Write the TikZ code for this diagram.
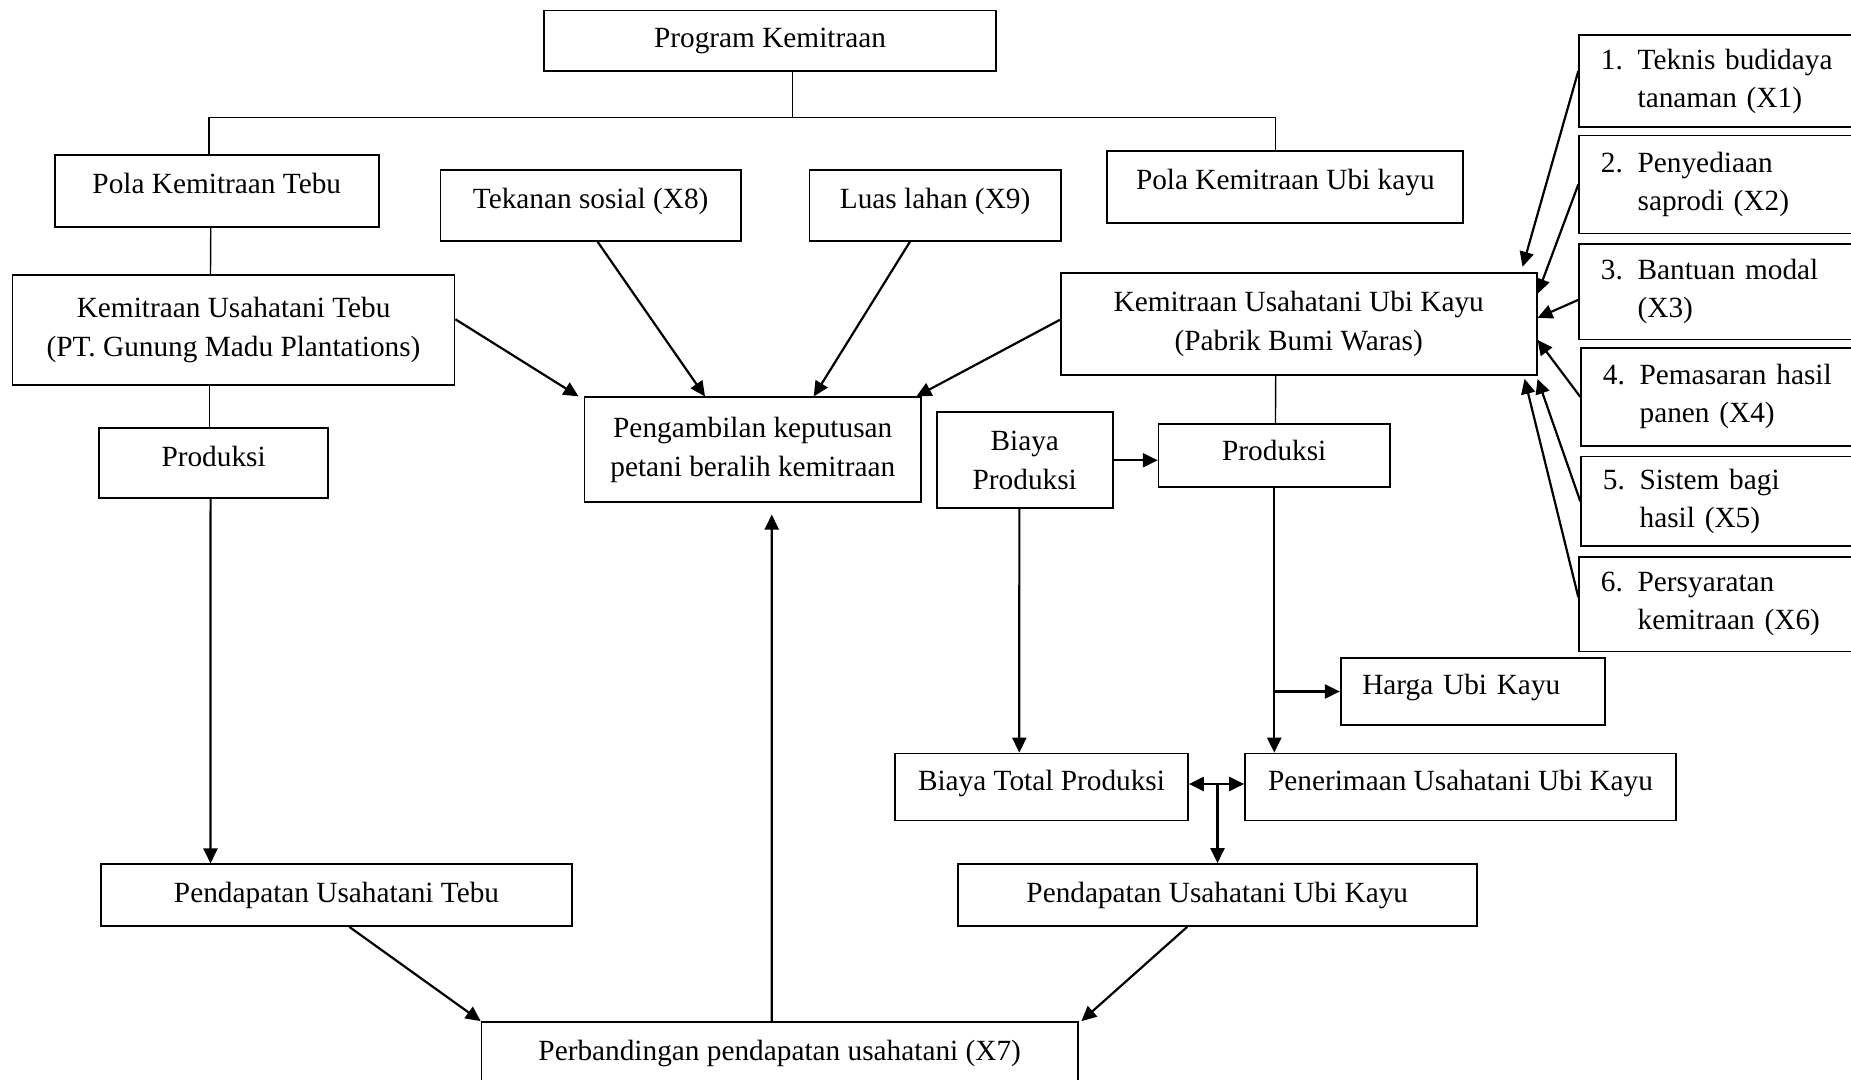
\documentclass[tikz,border=0pt]{standalone}
\usepackage{fontspec}
\setmainfont{Liberation Serif}
\usetikzlibrary{arrows.meta, calc}

\newcommand{\numitem}[3]{\makebox[18.4pt][l]{#1}#2\\\hspace*{18.4pt}#3}

\begin{document}
\begin{tikzpicture}[
    x=0.5pt, y=-0.5pt,
    font=\fontsize{14.65}{19.5}\selectfont,
    every node/.style={align=center},
    box/.style ={rectangle, draw, line width=0.85pt, inner sep=0pt},
    one/.style ={box, text height=0.7em, text depth=0.4em},
    lst/.style ={box, anchor=north west, align=left, inner xsep=10.85pt,
                 text width=125pt, font=\fontsize{14.65}{19}\selectfont},
    arr/.style ={-{Triangle[length=7.5pt,width=7pt]}, line width=1.1pt},
    dbl/.style ={{Triangle[length=7.5pt,width=7pt]}-{Triangle[length=7.5pt,width=7pt]},
                 line width=1.1pt},
    ln/.style  ={line width=0.7pt}
]
\useasboundingbox (0,0) rectangle (1851,1080);
\clip (0,0) rectangle (1851,1080);

% top of the tree
\node[box, minimum width=226pt, minimum height=30.2pt] (prog) at (770,40.8) {Program Kemitraan};

% left branch: tebu
\node[one, minimum width=162pt, minimum height=35.85pt] (polaT) at (216.75,190.85) {Pola Kemitraan Tebu};
\node[box, minimum width=221pt, minimum height=54.7pt]  (kemT)  at (233.6,330) {Kemitraan Usahatani Tebu\\(PT. Gunung Madu Plantations)};
\node[one, minimum width=114.7pt, minimum height=35.15pt] (prodT) at (213.6,463.15) {Produksi};
\node[box, minimum width=235.8pt, minimum height=30.85pt] (pendT) at (336.5,895.15) {Pendapatan Usahatani Tebu};

% middle
\node[one, minimum width=150.15pt, minimum height=35.5pt] (tek)  at (590.65,205.5) {Tekanan sosial (X8)};
\node[one, minimum width=125.6pt, minimum height=35.5pt]  (luas) at (935.1,205.5) {Luas lahan (X9)};
\node[box, minimum width=168.35pt, minimum height=52.2pt] (peng) at (752.75,449.5) {Pengambilan keputusan\\petani beralih kemitraan};
\node[one, minimum width=298.1pt, minimum height=35pt]    (perb) at (779.7,1057) {Perbandingan pendapatan usahatani (X7)};

% right branch: ubi kayu
\node[one, minimum width=178pt, minimum height=36pt]     (polaU)  at (1285.3,186.7) {Pola Kemitraan Ubi kayu};
\node[box, minimum width=238pt, minimum height=51.15pt]  (kemU)   at (1298.7,323.85) {Kemitraan Usahatani Ubi Kayu\\(Pabrik Bumi Waras)};
\node[box, minimum width=88pt, minimum height=48pt]      (biayaP) at (1024.75,460.3) {Biaya\\Produksi};
\node[one, text depth=0.2em, minimum width=115.65pt, minimum height=31.5pt] (prodU) at (1274.25,455.5) {Produksi};
\node[one, minimum width=132pt, minimum height=33.8pt, text width=110.4pt,
      inner xsep=10.8pt, align=left]                     (harga)  at (1472.7,691.5) {Harga Ubi Kayu};
\node[one, minimum width=146.5pt, minimum height=33.5pt] (btp)    at (1041.5,787) {Biaya Total Produksi};
\node[one, minimum width=215.5pt, minimum height=33.5pt] (pen)    at (1460.5,787) {Penerimaan Usahatani Ubi Kayu};
\node[box, minimum width=259.55pt, minimum height=31pt]  (pendU)  at (1217.25,895) {Pendapatan Usahatani Ubi Kayu};

% factor list
\node[lst, minimum height=46pt]    (k1) at (1578.3,34.2)  {\numitem{1.}{Teknis budidaya}{tanaman (X1)}};
\node[lst, minimum height=49pt]    (k2) at (1578.3,134.6) {\numitem{2.}{Penyediaan}{saprodi (X2)}};
\node[lst, minimum height=47.8pt]  (k3) at (1578.3,243.2) {\numitem{3.}{Bantuan modal}{(X3)}};
\node[lst, minimum height=49pt]    (k4) at (1580.3,347)   {\numitem{4.}{Pemasaran hasil}{panen (X4)}};
\node[lst, minimum height=44.85pt] (k5) at (1580.3,455.7) {\numitem{5.}{Sistem bagi}{hasil (X5)}};
\node[lst, minimum height=47.3pt]  (k6) at (1578.3,556)   {\numitem{6.}{Persyaratan}{kemitraan (X6)}};

% tree lines
\coordinate (bus) at ($(prog.south)+(22.7,45.7)$);
\draw[ln] ($(prog.south)+(22.7,0)$) -- (bus);
\draw[ln] ($(polaT.north)+(-7.75,0)$) |- (bus) -| ($(polaU.north)+(-9.6,0)$);
\draw[ln] ($(polaT.south)+(-6,0)$) -- ($(kemT.north)+(-23.1,0)$);
\draw[ln] ($(kemT.south)+(-23.9,0)$) -- ($(prodT.north)+(-3.9,0)$);
\draw[arr] ($(prodT.south)+(-3,0)$) -- ($(pendT.north)+(-126,0)$);

% into the decision box
\draw[arr] ($(kemT.east)+(0,-10.7)$) -- ($(peng.north west)+(-5,0)$);
\draw[arr] ($(tek.south)+(7,0)$) -- ($(peng.north)+(-47.75,0)$);
\draw[arr] ($(luas.south)+(-25.2,0)$) -- ($(peng.north)+(61,0)$);
\draw[arr] ($(kemU.west)+(0,-4)$) -- ($(peng.north east)+(-5.6,0)$);
\draw[arr, shorten >=6pt] ($(perb.north)+(-8,0)$) -- ($(peng.south)+(19,0)$);

% ubi kayu chain
\draw[ln] ($(kemU.south)+(-23,0)$) -- ($(prodU.north)+(1.2,0)$);
\draw[arr] (biayaP.east) -- (biayaP.east -| prodU.west);
\draw[arr] (prodU.south) -- (prodU.south |- pen.north);
\draw[arr] (prodU.south |- harga.west) -- (harga.west);
\draw[arr] ($(biayaP.south)+(-5.4,0)$) -- ($(btp.north)+(-22.2,0)$);
\draw[dbl] ($(btp.east)+(0,-3)$) -- ($(pen.west)+(0,-3)$);
\coordinate (mid) at ($(btp.east)!0.5!(pen.west)+(1,-3)$);
\draw[arr] (mid) -- (mid |- pendU.north);

% incomes to comparison
\draw[arr] ($(pendT.south)+(12.8,0)$) -- (perb.north west);
\draw[arr] ($(pendU.south)+(-30,0)$) -- ($(perb.north east)+(2.7,0)$);

% factors to kemitraan ubi kayu
\draw[arr] ($(k1.west)+(0,-10)$) -- ($(kemU.north east)+(-15,-5)$);
\draw[arr] (k2.west) -- ($(kemU.north east)+(0,22)$);
\draw[arr] ($(k3.west)+(0,8)$) -- ($(kemU.east)+(0,-6)$);
\draw[arr] (k4.west) -- ($(kemU.east)+(0,16)$);
\draw[arr] (k5.west) -- ($(kemU.south east)+(0,3)$);
\draw[arr] ($(k6.west)+(0,-7)$) -- ($(kemU.south east)+(-13,3)$);
\end{tikzpicture}
\end{document}
